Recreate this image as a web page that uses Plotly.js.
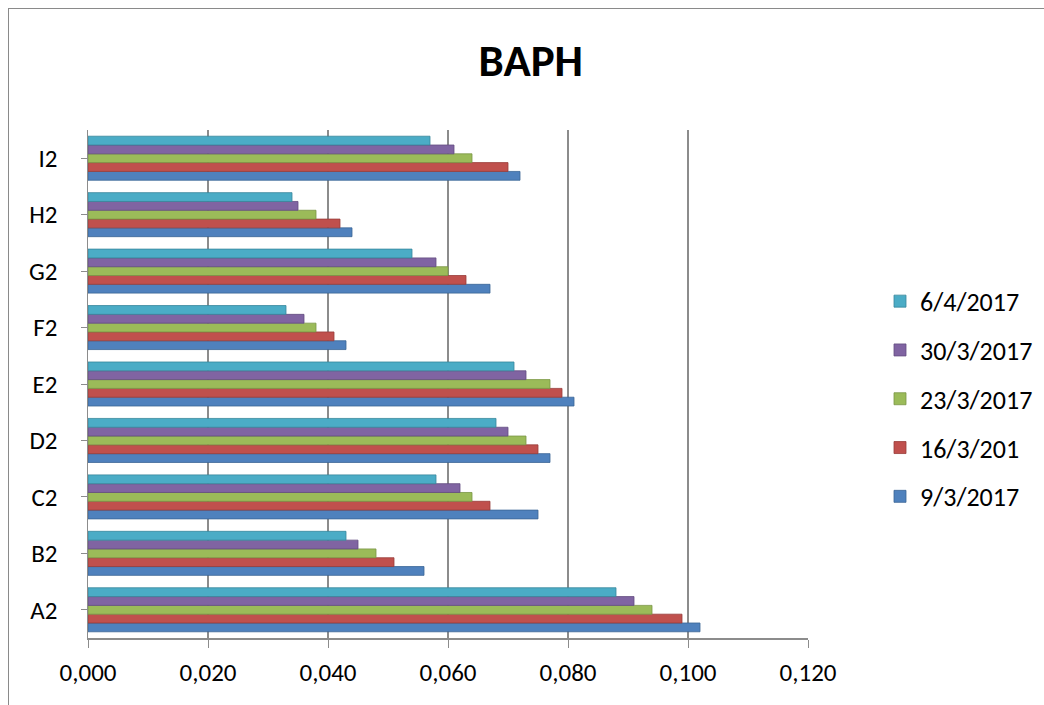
<!DOCTYPE html>
<html>
<head>
<meta charset="utf-8">
<script src="https://cdn.plot.ly/plotly-3.0.1.min.js"></script>
<style>
  html, body { margin: 0; padding: 0; background: #ffffff; }
  #frame { position: absolute; left: 8px; top: 8px; width: 1100px; height: 760px; border: 1.5px solid #8a8a8a; box-sizing: border-box; pointer-events: none; }
  #chart { position: absolute; left: 0; top: 0; width: 1044px; height: 705px; }
</style>
</head>
<body>
<div id="chart"></div>
<div id="frame"></div>
<script>
const categories = ["A2", "B2", "C2", "D2", "E2", "F2", "G2", "H2", "I2"];
const seriesNames = ["9/3/2017", "16/3/201", "23/3/2017", "30/3/2017", "6/4/2017"];
const s_9_3  = [0.102, 0.056, 0.075, 0.077, 0.081, 0.043, 0.067, 0.044, 0.072];
const s_16_3 = [0.099, 0.051, 0.067, 0.075, 0.079, 0.041, 0.063, 0.042, 0.070];
const s_23_3 = [0.094, 0.048, 0.064, 0.073, 0.077, 0.038, 0.060, 0.038, 0.064];
const s_30_3 = [0.091, 0.045, 0.062, 0.070, 0.073, 0.036, 0.058, 0.035, 0.061];
const s_6_4  = [0.088, 0.043, 0.058, 0.068, 0.071, 0.033, 0.054, 0.034, 0.057];
const seriesValues = [s_9_3, s_16_3, s_23_3, s_30_3, s_6_4];
const colors = ["#4F81BD", "#C0504D", "#9BBB59", "#8064A2", "#4BACC6"];
const edgeColors = ["#3a6496", "#983c3a", "#7a9545", "#634c80", "#37879c"];
const xTicks = [0, 0.02, 0.04, 0.06, 0.08, 0.10, 0.12];

const font = "Carlito, 'Liberation Sans Narrow', 'Liberation Sans', Arial, sans-serif";

const traces = seriesValues.map((vals, i) => ({
  type: "bar",
  orientation: "h",
  name: seriesNames[i],
  legendgroup: "g" + i,
  legendrank: 100 - i,
  x: vals,
  y: categories,
  marker: { color: colors[i], line: { color: edgeColors[i], width: 0.8 } },
  hoverinfo: "x+name"
}));

const layout = {
  width: 1044,
  height: 705,
  margin: { l: 88, r: 236, t: 130, b: 67, autoexpand: false },
  paper_bgcolor: "#ffffff",
  plot_bgcolor: "#ffffff",
  separators: ",.",
  barmode: "group",
  bargap: 0.22,
  bargroupgap: 0,
  title: {
    text: "<b>BAPH</b>",
    font: { family: font, size: 45, color: "#000000" },
    x: 0.615, xref: "paper", xanchor: "center",
    y: 0.915, yanchor: "middle"
  },
  xaxis: {
    range: [0, 0.12],
    tickvals: xTicks,
    tickformat: ".3f",
    showgrid: true,
    gridcolor: "#8c8c8c",
    gridwidth: 1.6,
    zeroline: false,
    showline: true,
    linecolor: "#8c8c8c",
    linewidth: 1.5,
    ticks: "outside",
    ticklen: 8,
    tickcolor: "#8c8c8c",
    tickfont: { family: font, size: 25, color: "#000000" },
    ticklabelstandoff: 3,
    fixedrange: true
  },
  yaxis: {
    type: "category",
    categoryorder: "array",
    categoryarray: categories,
    showgrid: false,
    zeroline: false,
    showline: true,
    linecolor: "#8c8c8c",
    linewidth: 1.5,
    ticks: "outside",
    ticklen: 6,
    tickcolor: "#8c8c8c",
    tickfont: { family: font, size: 25, color: "#000000" },
    ticklabelstandoff: 18,
    fixedrange: true
  },
  legend: {
    x: 1.1, xanchor: "left",
    y: 0.47, yanchor: "middle",
    traceorder: "grouped",
    font: { family: font, size: 26, color: "#000000" },
    itemwidth: 30,
    tracegroupgap: 12,
    bgcolor: "rgba(0,0,0,0)"
  },
  showlegend: true
};

Plotly.newPlot("chart", traces, layout, { displayModeBar: false, staticPlot: true });
</script>
</body>
</html>
